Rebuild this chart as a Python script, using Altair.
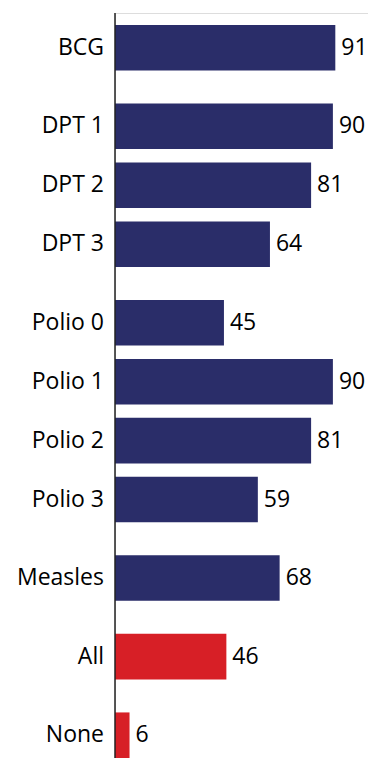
import altair as alt
import pandas as pd

labels = ["BCG", "DPT 1", "DPT 2", "DPT 3", "Polio 0", "Polio 1", "Polio 2",
          "Polio 3", "Measles", "All", "None"]
values = [91, 90, 81, 64, 45, 90, 81, 59, 68, 46, 6]
groups = ["BCG", "DPT", "DPT", "DPT", "Polio", "Polio", "Polio", "Polio",
          "Measles", "All", "None"]
kinds = ["vaccine"] * 9 + ["summary"] * 2

# slot layout: 3 units per bar, 1 extra unit between groups
rows = []
g = 0
for i, (lab, v, grp, k) in enumerate(zip(labels, values, groups, kinds)):
    if i > 0 and grp != groups[i - 1]:
        g += 1
    top = i * 3 + g
    rows.append({"label": lab, "value": v, "kind": k,
                 "top": top, "bot": top + 2.32, "mid": top + 1.16})
df = pd.DataFrame(rows)

FONT = "Open Sans"
yscale = alt.Scale(domain=[-0.61, 37.32], reverse=True, nice=False, zero=False)
xscale = alt.Scale(domain=[0, 104.5], nice=False)

base = alt.Chart(df)

bars = base.mark_rect().encode(
    x=alt.X("value:Q", scale=xscale, axis=None),
    x2=alt.datum(0),
    y=alt.Y("top:Q", scale=yscale, axis=None),
    y2="bot:Q",
    color=alt.Color("kind:N", scale=alt.Scale(domain=["vaccine", "summary"],
                                              range=["#2a2d69", "#d71f26"]),
                    legend=None),
)

axis_line = alt.Chart(pd.DataFrame({"zero": [0]})).mark_rule(
    color="#222222", strokeWidth=1.5).encode(
    x=alt.X("zero:Q", scale=xscale, axis=None),
    y=alt.value(0),
    y2=alt.value(745),
)

vals = base.mark_text(align="left", baseline="middle", dx=6, fontSize=23,
                      font=FONT, color="#000000").encode(
    x=alt.X("value:Q", scale=xscale, axis=None),
    y=alt.Y("mid:Q", scale=yscale, axis=None),
    text="value:Q",
)

cats = base.mark_text(align="right", baseline="middle", fontSize=23,
                      font=FONT, color="#000000").encode(
    x=alt.value(-11),
    y=alt.Y("mid:Q", scale=yscale, axis=None),
    text="label:N",
)

chart = alt.layer(bars, axis_line, vals, cats).properties(
    width=253, height=745,
    autosize=alt.AutoSizeParams(type="none"),
    padding={"left": 115, "top": 13, "right": 0, "bottom": 0},
).configure_view(stroke=None).configure(background="white")

chart.save("out.html", embed_options={"renderer": "svg", "actions": False})
